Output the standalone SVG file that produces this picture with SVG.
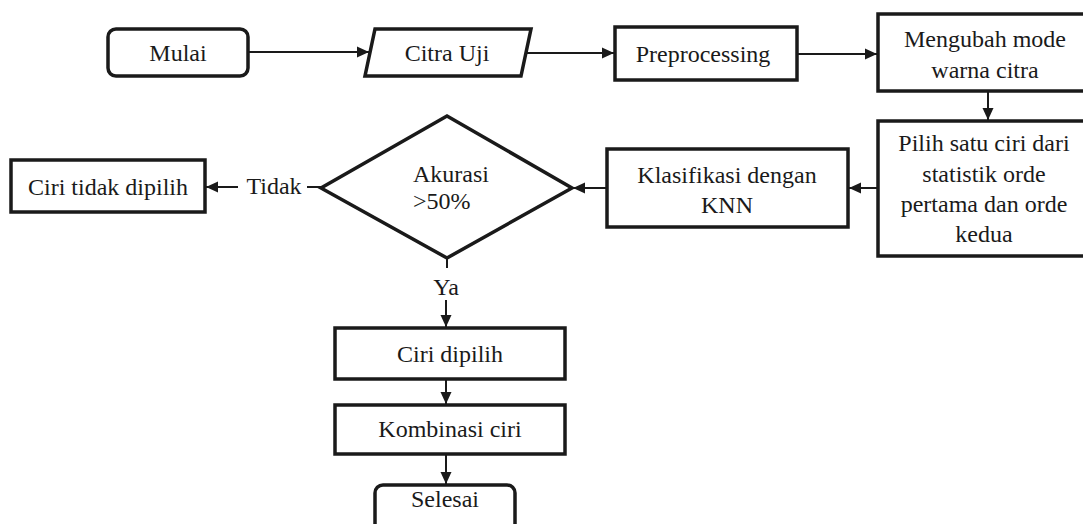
<svg xmlns="http://www.w3.org/2000/svg" width="1083" height="524" viewBox="0 0 1083 524">
  <style>
    .box { fill: #ffffff; stroke: #1a1a1a; stroke-width: 3.5; }
    text { font-family: 'Liberation Serif', 'Times New Roman', Times, serif; font-size: 24px; fill: #1a1a1a; }
    .lbl { text-anchor: middle; }
    .conn { fill: none; stroke: #1a1a1a; stroke-width: 2; }
    .arr { marker-end: url(#ah); }
  </style>
  <defs>
    <marker id="ah" markerUnits="userSpaceOnUse" markerWidth="14" markerHeight="14" viewBox="0 0 14 14" refX="13" refY="7" orient="auto">
      <path d="M1,1.5 L13,7 L1,12.5 Z" fill="#1a1a1a"/>
    </marker>
  </defs>
  <rect width="1083" height="524" fill="#ffffff"/>

  <g id="connectors">
    <line class="conn arr" x1="249" y1="52" x2="369" y2="52"/>
    <line class="conn arr" x1="527" y1="53" x2="614" y2="53"/>
    <line class="conn arr" x1="798" y1="54" x2="877" y2="54"/>
    <line class="conn arr" x1="988" y1="91" x2="988" y2="120"/>
    <line class="conn arr" x1="877" y1="188" x2="849" y2="188"/>
    <line class="conn arr" x1="606" y1="188" x2="573" y2="188"/>
    <line class="conn" x1="307" y1="187" x2="321" y2="187"/>
    <line class="conn arr" x1="238" y1="187" x2="206" y2="187"/>
    <line class="conn" x1="447" y1="258" x2="447" y2="268"/>
    <line class="conn arr" x1="446" y1="300" x2="446" y2="327"/>
    <line class="conn arr" x1="446" y1="380" x2="446" y2="404"/>
    <line class="conn arr" x1="446" y1="455" x2="446" y2="484"/>
    <text class="lbl" x="274" y="194" font-family="Liberation Serif, serif">Tidak</text>
    <text class="lbl" x="446" y="295" font-family="Liberation Serif, serif">Ya</text>
  </g>

  <g id="mulai">
    <rect class="box" x="108" y="29" width="140" height="47" rx="8"/>
    <text class="lbl" x="178" y="61">Mulai</text>
  </g>

  <g id="citra-uji">
    <polygon class="box" points="375,29 531,29 521,76 365,76"/>
    <text class="lbl" x="447" y="61">Citra Uji</text>
  </g>

  <g id="preprocessing">
    <rect class="box" x="615" y="27" width="182" height="53"/>
    <text class="lbl" x="703" y="62">Preprocessing</text>
  </g>

  <g id="mengubah">
    <rect class="box" x="878" y="14" width="210" height="77"/>
    <text class="lbl" x="985" y="47">Mengubah mode</text>
    <text class="lbl" x="985" y="78">warna citra</text>
  </g>

  <g id="pilih">
    <rect class="box" x="878" y="121" width="210" height="135"/>
    <text class="lbl" x="984" y="151">Pilih satu ciri dari</text>
    <text class="lbl" x="984" y="182">statistik orde</text>
    <text class="lbl" x="984" y="212">pertama dan orde</text>
    <text class="lbl" x="984" y="242">kedua</text>
  </g>

  <g id="klasifikasi">
    <rect class="box" x="607" y="149" width="241" height="78"/>
    <text class="lbl" x="727" y="183">Klasifikasi dengan</text>
    <text class="lbl" x="727" y="213">KNN</text>
  </g>

  <g id="akurasi">
    <polygon class="box" points="447,116 572,188 447,258 321,188"/>
    <text x="413" y="182">Akurasi</text>
    <text x="413" y="209">&gt;50%</text>
  </g>

  <g id="ciri-tidak-dipilih">
    <rect class="box" x="11" y="160" width="194" height="52"/>
    <text class="lbl" x="108" y="195">Ciri tidak dipilih</text>
  </g>

  <g id="ciri-dipilih">
    <rect class="box" x="335" y="328" width="230" height="51"/>
    <text class="lbl" x="450" y="362">Ciri dipilih</text>
  </g>

  <g id="kombinasi">
    <rect class="box" x="335" y="405" width="230" height="49"/>
    <text class="lbl" x="450" y="437">Kombinasi ciri</text>
  </g>

  <g id="selesai">
    <rect class="box" x="375" y="485" width="140" height="60" rx="8"/>
    <text class="lbl" x="445" y="507">Selesai</text>
  </g>
</svg>
